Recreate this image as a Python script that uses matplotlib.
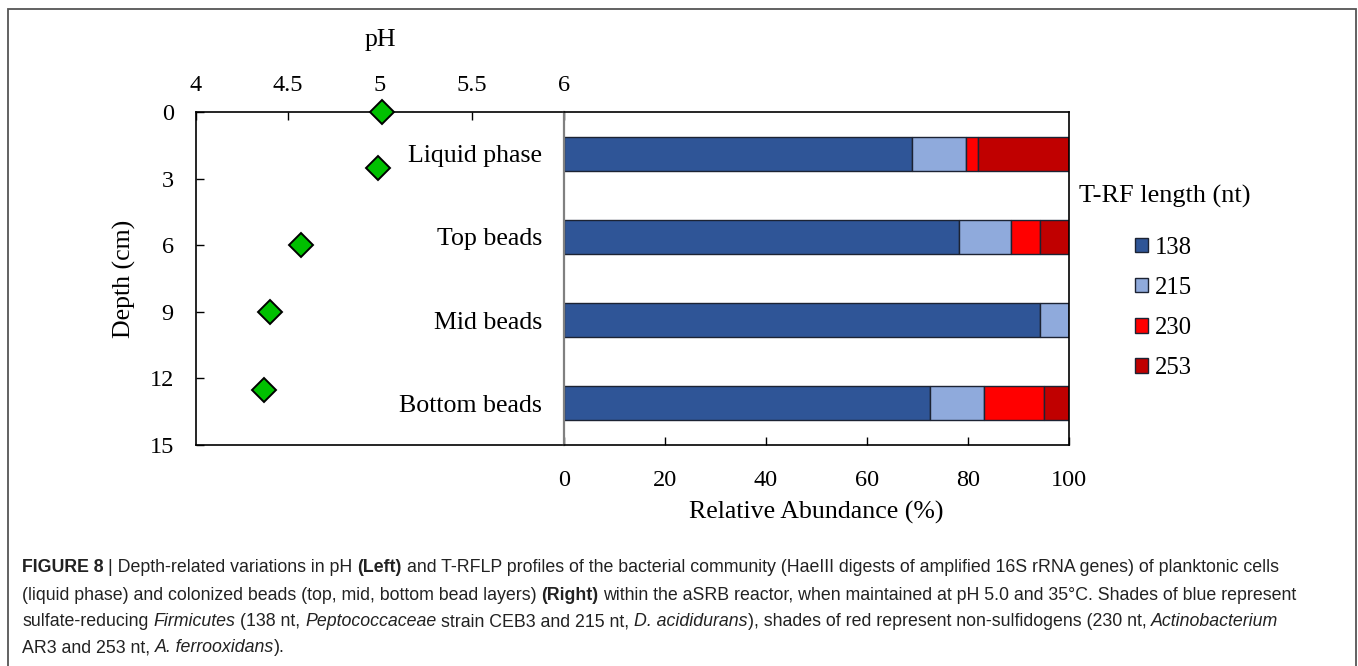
import matplotlib
matplotlib.use("Agg")
import numpy as np
from matplotlib import pyplot as plt
from matplotlib.patches import Patch, Rectangle

# pH profile (left panel)
ph_values = [5.01, 4.99, 4.57, 4.40, 4.37]
depth_cm = [0.0, 2.5, 6.0, 9.0, 12.5]

# T-RFLP profiles (right panel), relative abundance in %
samples = ["Liquid phase", "Top beads", "Mid beads", "Bottom beads"]
trf_lengths = ["138", "215", "230", "253"]
abundance = {
    "138": [68.9, 78.3, 94.3, 72.4],
    "215": [10.7, 10.2, 5.7, 10.7],
    "230": [2.4, 5.8, 0.0, 12.0],
    "253": [18.0, 5.7, 0.0, 4.9],
}
trf_colors = ["#2f5597", "#8faadc", "#ff0000", "#c00000"]

ph_ticks = [4, 4.5, 5, 5.5, 6]
ph_ticklabels = ["4", "4.5", "5", "5.5", "6"]
depth_ticks = [0, 3, 6, 9, 12, 15]
pct_ticks = [0, 20, 40, 60, 80, 100]

serif = "Liberation Serif"
cap_font = ["Liberation Sans", "DejaVu Sans"]
tick_size = 17.5
label_size = 18.6

W, H = 1358, 666
fig = plt.figure(figsize=(W / 100, H / 100), dpi=100)


def px_box(x0, y0, x1, y1):
    return [x0 / W, 1 - y1 / H, (x1 - x0) / W, (y1 - y0) / H]


# left panel: pH vs depth
ax1 = fig.add_axes(px_box(196, 112, 564, 445))
ax1.plot(ph_values, depth_cm, ls="none", marker="D", ms=12,
         mfc="#00c000", mec="black", mew=1.4, clip_on=False, zorder=5)
ax1.set_xlim(4, 6)
ax1.set_ylim(15, 0)
ax1.set_xticks(ph_ticks)
ax1.set_xticklabels(ph_ticklabels)
ax1.set_yticks(depth_ticks)
ax1.xaxis.tick_top()
ax1.xaxis.set_label_position("top")
ax1.tick_params(axis="x", direction="in", length=6, width=1, pad=11.5,
                labelsize=tick_size)
ax1.tick_params(axis="y", direction="in", length=6, width=1, pad=16,
                labelsize=tick_size)
ax1.spines["right"].set_visible(False)
for s in ["left", "top", "bottom"]:
    ax1.spines[s].set_linewidth(1.2)
ax1.set_xlabel("pH", fontsize=label_size, family=serif, labelpad=21)
ax1.set_ylabel("Depth (cm)", fontsize=label_size, family=serif, labelpad=10)
for lab in ax1.get_xticklabels() + ax1.get_yticklabels():
    lab.set_family(serif)

# right panel: stacked T-RF abundances
ax2 = fig.add_axes(px_box(564, 112, 1069, 445))
ypos = np.arange(len(samples))
left = np.zeros(len(samples))
for name, col in zip(trf_lengths, trf_colors):
    vals = np.array(abundance[name])
    ax2.barh(ypos, vals, left=left, height=0.41, color=col,
             edgecolor="#1c2333", linewidth=1.0, label=name)
    left += vals
ax2.set_xlim(0, 100)
ax2.set_ylim(len(samples) - 0.5, -0.5)
ax2.set_xticks(pct_ticks)
ax2.set_yticks(ypos)
ax2.set_yticklabels(samples)
ax2.tick_params(axis="x", direction="in", length=6, width=1, pad=18,
                labelsize=tick_size)
ax2.tick_params(axis="y", length=0, pad=16, labelsize=label_size)
for lab in ax2.get_xticklabels() + ax2.get_yticklabels():
    lab.set_family(serif)
ax2.spines["left"].set_color("#808080")
ax2.spines["left"].set_linewidth(1.6)
for s in ["right", "top", "bottom"]:
    ax2.spines[s].set_linewidth(1.2)
ax2.set_xlabel("Relative Abundance (%)", fontsize=label_size, family=serif,
               labelpad=7)
ax2.patch.set_alpha(0)

# legend
fig.text(1164.5 / W, 1 - 196 / H, "T-RF length (nt)", fontsize=18.9,
         family=serif, ha="center", va="center")
handles = [Patch(facecolor=c, edgecolor="#1c2333", linewidth=1.0)
           for c in trf_colors]
fig.legend(handles, trf_lengths, loc="upper left",
           bbox_to_anchor=(1135 / W, 1 - 237 / H), frameon=False,
           prop={"family": serif, "size": 17.8}, handlelength=0.52,
           handleheight=0.52, handletextpad=0.28, labelspacing=0.73,
           borderaxespad=0, borderpad=0)

# figure frame
fig.add_artist(Rectangle((8 / W, -0.05), (1356 - 8) / W, 1.05 - 9 / H,
                         transform=fig.transFigure, fill=False,
                         edgecolor="#555555", linewidth=1.3))

# caption with mixed styles
caption = [
    [("FIGURE 8", "bold", "normal"), (" | Depth-related variations in pH ", "normal", "normal"),
     ("(Left)", "bold", "normal"),
     (" and T-RFLP profiles of the bacterial community (HaeIII digests of amplified 16S rRNA genes) of planktonic cells",
      "normal", "normal")],
    [("(liquid phase) and colonized beads (top, mid, bottom bead layers) ", "normal", "normal"),
     ("(Right)", "bold", "normal"),
     (" within the aSRB reactor, when maintained at pH 5.0 and 35°C. Shades of blue represent",
      "normal", "normal")],
    [("sulfate-reducing ", "normal", "normal"), ("Firmicutes", "normal", "italic"),
     (" (138 nt, ", "normal", "normal"), ("Peptococcaceae", "normal", "italic"),
     (" strain CEB3 and 215 nt, ", "normal", "normal"), ("D. acididurans", "normal", "italic"),
     ("), shades of red represent non-sulfidogens (230 nt, ", "normal", "normal"),
     ("Actinobacterium", "normal", "italic")],
    [("AR3 and 253 nt, ", "normal", "normal"), ("A. ferrooxidans", "normal", "italic"),
     (").", "normal", "normal")],
]
cap_size = 12.8
renderer = fig.canvas.get_renderer()


def text_width(s, weight, style):
    t = fig.text(0, 0, s, fontsize=cap_size, family=cap_font,
                 fontweight=weight, fontstyle=style)
    w = t.get_window_extent(renderer).width
    t.remove()
    return w


space_w = text_width("x x", "normal", "normal") - text_width("xx", "normal", "normal")
line_y = [568, 596, 622, 648]
for runs, y in zip(caption, line_y):
    x = 22.0
    for s, weight, style in runs:
        lead = len(s) - len(s.lstrip(" "))
        trail = len(s) - len(s.rstrip(" "))
        core = s.strip(" ")
        x += lead * space_w
        fig.text(x / W, 1 - y / H, core, fontsize=cap_size, family=cap_font,
                 fontweight=weight, fontstyle=style, va="center",
                 color="#222222")
        x += text_width(core, weight, style) + trail * space_w

fig.savefig("out.png", dpi=100)
